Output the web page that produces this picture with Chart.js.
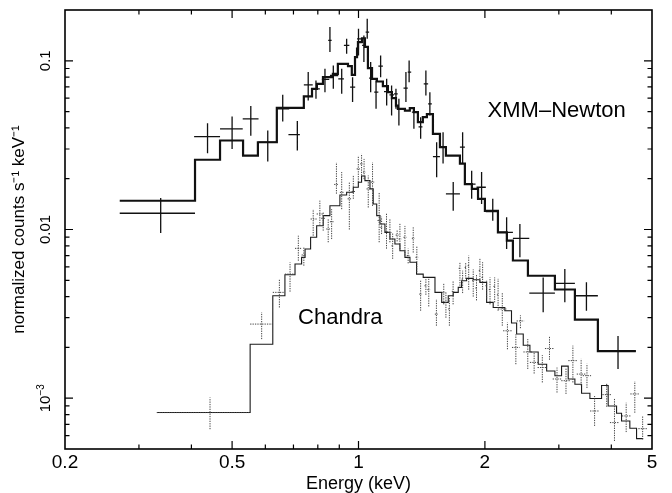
<!DOCTYPE html>
<html>
<head>
<meta charset="utf-8">
<script src="https://cdn.jsdelivr.net/npm/chart.js@4.4.0/dist/chart.umd.min.js"></script>
<style>
  html, body { margin: 0; padding: 0; background: #fff; }
  #wrap { width: 672px; height: 493px; }
</style>
</head>
<body>
<div id="wrap"><canvas id="spec" width="672" height="493"></canvas></div>
<script>
// ---- axes ----
const xTickValues = [0.2, 0.5, 1, 2, 5];
const xMinorTicks = [0.3, 0.4, 0.6, 0.7, 0.8, 0.9, 3, 4];
const yTickValues = [0.001, 0.01, 0.1];
const yTickLabels = [['10', '\u22123'], ['0.01', ''], ['0.1', '']];
const yMinorTicks = [0.0006, 0.0007, 0.0008, 0.0009,
  0.002, 0.003, 0.004, 0.005, 0.006, 0.007, 0.008, 0.009,
  0.02, 0.03, 0.04, 0.05, 0.06, 0.07, 0.08, 0.09];

// ---- XMM-Newton folded model (bin edges, keV / counts s^-1 keV^-1) ----
const xmmModelEdges = [0.270, 0.408, 0.468, 0.531, 0.576, 0.639, 0.741, 0.775, 0.796, 0.823,
  0.869, 0.893, 0.944, 0.964, 0.981, 0.992, 0.997, 1.019, 1.036, 1.053, 1.077, 1.106, 1.143,
  1.175, 1.201, 1.228, 1.241, 1.290, 1.325, 1.355, 1.385, 1.423, 1.455, 1.504, 1.563, 1.615,
  1.744, 1.792, 1.862, 1.926, 2.000, 2.148, 2.256, 2.332, 2.532, 2.936, 3.276, 3.716, 4.576];
const xmmModelValues = [0.0148, 0.0259, 0.0337, 0.0274, 0.0329, 0.0526, 0.0616, 0.0682, 0.0730,
  0.0800, 0.0837, 0.0960, 0.0930, 0.0826, 0.105, 0.118, 0.129, 0.136, 0.121, 0.0905, 0.0782,
  0.0754, 0.0708, 0.0652, 0.0601, 0.0543, 0.0519, 0.0507, 0.0524, 0.0496, 0.0433, 0.0463,
  0.0483, 0.0369, 0.0308, 0.0274, 0.0246, 0.0186, 0.0174, 0.0152, 0.0129, 0.00962, 0.00858,
  0.00655, 0.00532, 0.00441, 0.00292, 0.0019];

// [E, Elo, Ehi, rate, rateLo, rateHi]
const xmmPoints = [
  [0.338, 0.270, 0.408, 0.01248, 0.00953, 0.01537],
  [0.437, 0.406, 0.468, 0.0355, 0.0283, 0.0427],
  [0.500, 0.468, 0.530, 0.0395, 0.0300, 0.0467],
  [0.554, 0.530, 0.578, 0.0453, 0.0360, 0.0539],
  [0.608, 0.577, 0.638, 0.0329, 0.0253, 0.0386],
  [0.660, 0.638, 0.684, 0.0519, 0.0436, 0.0628],
  [0.715, 0.681, 0.725, 0.0365, 0.0294, 0.0439],
  [0.759, 0.741, 0.778, 0.0720, 0.0581, 0.0857],
  [0.792, 0.775, 0.809, 0.0682, 0.0595, 0.0764],
  [0.832, 0.818, 0.852, 0.0775, 0.0652, 0.0897],
  [0.855, 0.847, 0.863, 0.132, 0.1126, 0.1585],
  [0.871, 0.855, 0.895, 0.0818, 0.0682, 0.0938],
  [0.912, 0.895, 0.923, 0.0782, 0.0637, 0.0897],
  [0.937, 0.923, 0.951, 0.1233, 0.110, 0.135],
  [0.968, 0.955, 0.982, 0.0698, 0.0569, 0.080],
  [1.000, 0.992, 1.020, 0.135, 0.1075, 0.155],
  [1.030, 1.020, 1.040, 0.1233, 0.0982, 0.1413],
  [1.049, 1.040, 1.060, 0.148, 0.135, 0.1775],
  [1.069, 1.060, 1.080, 0.079, 0.0652, 0.0982],
  [1.101, 1.090, 1.115, 0.0652, 0.0519, 0.0764],
  [1.129, 1.115, 1.143, 0.093, 0.080, 0.1075],
  [1.167, 1.150, 1.185, 0.0657, 0.0543, 0.0782],
  [1.199, 1.185, 1.215, 0.0628, 0.0474, 0.0714],
  [1.228, 1.215, 1.240, 0.0637, 0.0519, 0.0682],
  [1.248, 1.240, 1.260, 0.0519, 0.0413, 0.0595],
  [1.297, 1.280, 1.310, 0.0689, 0.0569, 0.0857],
  [1.320, 1.310, 1.335, 0.0857, 0.0747, 0.1004],
  [1.355, 1.340, 1.370, 0.0496, 0.0395, 0.0519],
  [1.406, 1.390, 1.420, 0.0406, 0.0345, 0.0463],
  [1.447, 1.430, 1.465, 0.073, 0.0622, 0.0876],
  [1.479, 1.465, 1.495, 0.0556, 0.0474, 0.0652],
  [1.535, 1.504, 1.563, 0.0270, 0.0204, 0.0329],
  [1.590, 1.563, 1.615, 0.0308, 0.0246, 0.0377],
  [1.681, 1.615, 1.744, 0.01625, 0.0129, 0.0191],
  [1.770, 1.744, 1.792, 0.0308, 0.0246, 0.0377],
  [1.860, 1.792, 1.900, 0.0186, 0.0152, 0.0223],
  [1.964, 1.910, 2.010, 0.0178, 0.01417, 0.0219],
  [2.088, 2.010, 2.148, 0.01275, 0.01128, 0.0152],
  [2.253, 2.148, 2.332, 0.00962, 0.00766, 0.01181],
  [2.423, 2.332, 2.551, 0.00887, 0.00684, 0.01078],
  [2.753, 2.551, 2.936, 0.0042, 0.00323, 0.0052],
  [3.100, 2.936, 3.276, 0.0048, 0.0037, 0.00583],
  [3.490, 3.276, 3.716, 0.00405, 0.0033, 0.00486],
  [4.150, 3.716, 4.576, 0.0019, 0.00149, 0.00234]
];

// ---- Chandra folded model ----
const chandraModelEdges = [0.331, 0.552, 0.625, 0.668, 0.706, 0.732, 0.746, 0.769, 0.795, 0.824,
  0.855, 0.903, 0.937, 0.972, 0.999, 1.017, 1.036, 1.065, 1.084, 1.105, 1.125, 1.156, 1.188,
  1.221, 1.255, 1.290, 1.326, 1.375, 1.426, 1.521, 1.578, 1.636, 1.681, 1.728, 1.760, 1.809,
  1.876, 1.946, 2.019, 2.093, 2.231, 2.314, 2.380, 2.468, 2.560, 2.679, 2.806, 2.936, 3.045,
  3.158, 3.276, 3.398, 3.557, 3.792, 3.932, 4.117, 4.231, 4.428, 4.594, 4.763];
const chandraModelValues = [0.000823, 0.00209, 0.00405, 0.00539, 0.00624, 0.00684, 0.00766,
  0.00899, 0.01053, 0.01208, 0.01384, 0.0160, 0.01663, 0.0178, 0.01906, 0.02077, 0.01948,
  0.0174, 0.01417, 0.01208, 0.01078, 0.00962, 0.00878, 0.0082, 0.00748, 0.00684, 0.00639,
  0.00544, 0.0052, 0.00424, 0.0037, 0.00405, 0.00424, 0.00454, 0.00497, 0.00513, 0.00504,
  0.00486, 0.0037, 0.00345, 0.0033, 0.00279, 0.0024, 0.00206, 0.00188, 0.00159, 0.00145,
  0.00136, 0.00155, 0.0013, 0.00121, 0.00107, 0.000996, 0.00119, 0.0009, 0.000815, 0.000733,
  0.000664, 0.000576];

const chandraPoints = [
  [0.443, 0.331, 0.552, 0.000822, 0.000655, 0.00101],
  [0.588, 0.552, 0.625, 0.00275, 0.00224, 0.00323],
  [0.648, 0.625, 0.668, 0.00424, 0.00345, 0.00508],
  [0.687, 0.668, 0.706, 0.00544, 0.00428, 0.00639],
  [0.719, 0.706, 0.732, 0.00773, 0.00653, 0.00919],
  [0.741, 0.732, 0.750, 0.00706, 0.0061, 0.00784],
  [0.780, 0.769, 0.795, 0.01154, 0.00919, 0.0132],
  [0.809, 0.795, 0.824, 0.01236, 0.01053, 0.01483],
  [0.824, 0.815, 0.833, 0.01165, 0.00984, 0.01265],
  [0.847, 0.838, 0.855, 0.01007, 0.0084, 0.01154],
  [0.863, 0.855, 0.872, 0.01112, 0.00878, 0.0132],
  [0.886, 0.875, 0.897, 0.0185, 0.0163, 0.025],
  [0.912, 0.903, 0.921, 0.0166, 0.0132, 0.0219],
  [0.951, 0.942, 0.960, 0.0152, 0.010, 0.0191],
  [0.972, 0.963, 0.981, 0.01679, 0.0152, 0.0209],
  [0.999, 0.990, 1.008, 0.02286, 0.0191, 0.0274],
  [1.017, 1.009, 1.025, 0.0245, 0.0209, 0.0281],
  [1.031, 1.025, 1.040, 0.0219, 0.0199, 0.0262],
  [1.055, 1.045, 1.065, 0.0174, 0.0135, 0.0209],
  [1.080, 1.070, 1.090, 0.0191, 0.0138, 0.025],
  [1.120, 1.110, 1.130, 0.0113, 0.0084, 0.0166],
  [1.135, 1.127, 1.143, 0.0103, 0.0094, 0.0119],
  [1.166, 1.156, 1.176, 0.0097, 0.0077, 0.0124],
  [1.188, 1.178, 1.198, 0.0096, 0.0084, 0.0115],
  [1.206, 1.198, 1.214, 0.0080, 0.0067, 0.0096],
  [1.236, 1.226, 1.246, 0.00927, 0.0085, 0.0100],
  [1.255, 1.246, 1.264, 0.00878, 0.00766, 0.0108],
  [1.290, 1.280, 1.300, 0.00899, 0.0070, 0.0105],
  [1.313, 1.303, 1.323, 0.0070, 0.0063, 0.0077],
  [1.350, 1.340, 1.360, 0.00887, 0.0073, 0.0103],
  [1.377, 1.367, 1.387, 0.00684, 0.0056, 0.0080],
  [1.406, 1.395, 1.417, 0.00414, 0.0033, 0.00497],
  [1.447, 1.436, 1.458, 0.00464, 0.0041, 0.0052],
  [1.470, 1.459, 1.481, 0.0044, 0.0035, 0.0051],
  [1.533, 1.520, 1.546, 0.00315, 0.00269, 0.00387],
  [1.596, 1.583, 1.609, 0.00424, 0.0036, 0.0048],
  [1.615, 1.605, 1.625, 0.0037, 0.0030, 0.00424],
  [1.646, 1.635, 1.657, 0.00338, 0.00269, 0.0040],
  [1.680, 1.668, 1.692, 0.0043, 0.0036, 0.00497],
  [1.744, 1.732, 1.756, 0.00589, 0.00464, 0.0064],
  [1.770, 1.760, 1.780, 0.00508, 0.0042, 0.0057],
  [1.800, 1.790, 1.810, 0.00596, 0.0051, 0.0064],
  [1.830, 1.820, 1.840, 0.0061, 0.0044, 0.0070],
  [1.876, 1.864, 1.888, 0.00497, 0.0040, 0.0058],
  [1.910, 1.898, 1.922, 0.0045, 0.0038, 0.0054],
  [1.946, 1.934, 1.958, 0.0057, 0.0049, 0.0068],
  [1.975, 1.963, 1.987, 0.0052, 0.0044, 0.0064],
  [2.019, 2.006, 2.032, 0.00464, 0.0039, 0.00497],
  [2.057, 2.044, 2.070, 0.0044, 0.0036, 0.0052],
  [2.110, 2.096, 2.124, 0.0046, 0.0037, 0.0052],
  [2.150, 2.136, 2.164, 0.0041, 0.0033, 0.0051],
  [2.200, 2.150, 2.250, 0.00338, 0.00269, 0.00424],
  [2.263, 2.210, 2.320, 0.00251, 0.00195, 0.00281],
  [2.370, 2.320, 2.420, 0.0020, 0.00159, 0.00239],
  [2.430, 2.380, 2.480, 0.00287, 0.0026, 0.0031],
  [2.530, 2.470, 2.590, 0.00188, 0.00149, 0.00224],
  [2.620, 2.560, 2.680, 0.00163, 0.0014, 0.00188],
  [2.740, 2.670, 2.810, 0.00152, 0.00124, 0.0018],
  [2.850, 2.780, 2.920, 0.00197, 0.00169, 0.00234],
  [2.970, 2.900, 3.040, 0.0013, 0.00108, 0.00152],
  [3.120, 3.040, 3.200, 0.00127, 0.00106, 0.00152],
  [3.240, 3.160, 3.320, 0.00167, 0.00124, 0.00205],
  [3.390, 3.310, 3.470, 0.00139, 0.00119, 0.00171],
  [3.500, 3.420, 3.580, 0.00136, 0.00115, 0.0016],
  [3.650, 3.560, 3.740, 0.00084, 0.000685, 0.00103],
  [3.900, 3.810, 4.000, 0.00105, 0.00089, 0.00122],
  [4.070, 3.970, 4.170, 0.000717, 0.000558, 0.00099],
  [4.340, 4.240, 4.450, 0.000785, 0.00063, 0.00094],
  [4.550, 4.440, 4.660, 0.00106, 0.00082, 0.00126],
  [4.750, 4.640, 4.860, 0.00066, 0.00057, 0.00079]
];

// in-plot labels, placed in data coordinates (left end of baseline)
const seriesLabels = [
  { text: 'XMM\u2013Newton', x: 2.03, y: 0.0463 },
  { text: 'Chandra', x: 0.718, y: 0.00275 }
];

const FONT = '"Liberation Sans", Arial, Helvetica, sans-serif';

// histogram: value i holds from edge i to edge i+1
function stepPoints(edges, values) {
  const pts = values.map((v, i) => ({ x: edges[i], y: v }));
  pts.push({ x: edges[edges.length - 1], y: values[values.length - 1] });
  return pts;
}
function crossPoints(rows) {
  return rows.map(r => ({ x: r[0], y: r[3], xMin: r[1], xMax: r[2], yMin: r[4], yMax: r[5] }));
}

const decorations = {
  id: 'decorations',
  afterDatasetsDraw(chart) {
    const { ctx, chartArea: a, scales: { x, y } } = chart;

    // error crosses
    ctx.save();
    ctx.beginPath();
    ctx.rect(a.left, a.top, a.right - a.left, a.bottom - a.top);
    ctx.clip();
    chart.data.datasets.forEach(ds => {
      if (!ds.errorBars) return;
      ctx.strokeStyle = ds.borderColor;
      ctx.lineWidth = ds.borderWidth;
      ctx.setLineDash(ds.errorDash || []);
      ctx.beginPath();
      ds.data.forEach(p => {
        const px = x.getPixelForValue(p.x), py = y.getPixelForValue(p.y);
        ctx.moveTo(x.getPixelForValue(p.xMin), py);
        ctx.lineTo(x.getPixelForValue(p.xMax), py);
        ctx.moveTo(px, y.getPixelForValue(p.yMin));
        ctx.lineTo(px, y.getPixelForValue(p.yMax));
      });
      ctx.stroke();
    });
    ctx.restore();

    // frame + inward ticks on all four sides
    ctx.save();
    ctx.strokeStyle = '#000';
    ctx.lineWidth = 1.6;
    ctx.strokeRect(a.left, a.top, a.right - a.left, a.bottom - a.top);
    ctx.lineWidth = 1.2;
    ctx.beginPath();
    const xTick = (v, len) => {
      const px = x.getPixelForValue(v);
      ctx.moveTo(px, a.bottom); ctx.lineTo(px, a.bottom - len);
      ctx.moveTo(px, a.top); ctx.lineTo(px, a.top + len);
    };
    const yTick = (v, len) => {
      const py = y.getPixelForValue(v);
      ctx.moveTo(a.left, py); ctx.lineTo(a.left + len, py);
      ctx.moveTo(a.right, py); ctx.lineTo(a.right - len, py);
    };
    xTickValues.slice(1, -1).forEach(v => xTick(v, 8));
    xMinorTicks.forEach(v => xTick(v, 4.5));
    yTickValues.forEach(v => yTick(v, 8));
    yMinorTicks.forEach(v => yTick(v, 4.5));
    ctx.stroke();

    // rotated y tick labels
    ctx.fillStyle = '#000';
    ctx.textBaseline = 'alphabetic';
    ctx.textAlign = 'left';
    yTickValues.forEach((v, i) => {
      const [main, sup] = yTickLabels[i];
      ctx.save();
      ctx.translate(50, y.getPixelForValue(v));
      ctx.rotate(-Math.PI / 2);
      ctx.font = '15px ' + FONT;
      const w1 = ctx.measureText(main).width;
      ctx.font = '10px ' + FONT;
      const w2 = sup ? ctx.measureText(sup).width : 0;
      const start = -(w1 + w2) / 2;
      ctx.font = '15px ' + FONT;
      ctx.fillText(main, start, 0);
      if (sup) {
        ctx.font = '10px ' + FONT;
        ctx.fillText(sup, start + w1, -6);
      }
      ctx.restore();
    });

    // series names
    ctx.font = '22px ' + FONT;
    seriesLabels.forEach(l => {
      ctx.fillText(l.text, x.getPixelForValue(l.x), y.getPixelForValue(l.y));
    });
    ctx.restore();
  }
};

new Chart(document.getElementById('spec'), {
  type: 'scatter',
  data: {
    datasets: [
      {
        type: 'line', data: stepPoints(xmmModelEdges, xmmModelValues),
        stepped: true, borderColor: '#111', borderWidth: 2.2, pointRadius: 0, fill: false
      },
      {
        type: 'line', data: stepPoints(chandraModelEdges, chandraModelValues),
        stepped: true, borderColor: '#1a1a1a', borderWidth: 1.1, pointRadius: 0, fill: false
      },
      {
        data: crossPoints(xmmPoints), errorBars: true,
        borderColor: '#111', borderWidth: 1.3, pointRadius: 0, showLine: false
      },
      {
        data: crossPoints(chandraPoints), errorBars: true, errorDash: [1.3, 1.1],
        borderColor: '#444', borderWidth: 1, pointRadius: 0, showLine: false
      }
    ]
  },
  options: {
    responsive: false,
    animation: false,
    devicePixelRatio: 1,
    layout: { padding: { top: 10, right: 20, left: 0, bottom: 0 } },
    plugins: { legend: { display: false }, tooltip: { enabled: false } },
    scales: {
      x: {
        type: 'logarithmic', min: 0.2, max: 5, position: 'bottom',
        grid: { display: false, drawTicks: false },
        border: { display: false },
        afterBuildTicks: s => { s.ticks = xTickValues.map(v => ({ value: v })); },
        ticks: {
          callback: v => String(v), color: '#000', padding: 2,
          maxRotation: 0, autoSkip: false, font: { size: 19, family: FONT }
        },
        title: {
          display: true, text: 'Energy (keV)', color: '#000',
          font: { size: 18, family: FONT, lineHeight: 1 }, padding: { top: 0, bottom: 0 }
        },
        afterFit: s => { s.height = 44; }
      },
      y: {
        type: 'logarithmic', min: 0.0005, max: 0.2,
        grid: { display: false, drawTicks: false },
        border: { display: false },
        ticks: { display: false },
        title: {
          display: true, text: 'normalized counts s\u207B\u00B9 keV\u207B\u00B9', color: '#000',
          font: { size: 17, family: FONT }, padding: { top: 9, bottom: 0 }
        },
        afterFit: s => { s.width = 65; }
      }
    }
  },
  plugins: [decorations]
});
</script>
</body>
</html>
